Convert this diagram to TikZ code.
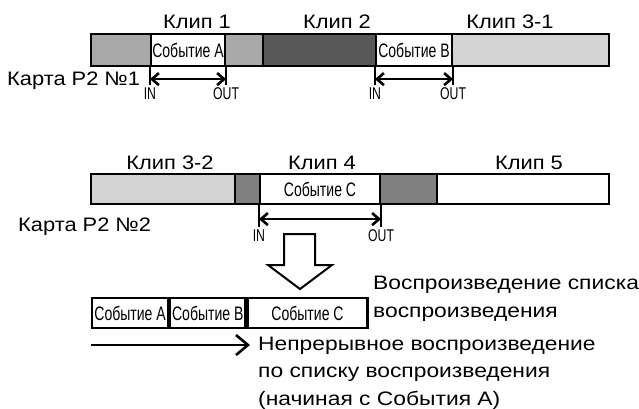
\documentclass[tikz,border=0pt]{standalone}
\usepackage{fontspec}
\setmainfont{Liberation Sans}[FakeStretch=1.12]
\newfontfamily\narrowfont{Liberation Sans}[FakeStretch=0.72]
\newfontfamily\notefont{Liberation Sans}[FakeStretch=1.17]
\usepackage{tikz}
\usetikzlibrary{arrows.meta,positioning,calc}
\definecolor{gMid}{RGB}{168,168,168}
\definecolor{gDark}{RGB}{88,88,88}
\definecolor{gLight}{RGB}{212,212,212}
\definecolor{gCut}{RGB}{128,128,128}
\newcommand{\bigtxt}{\fontsize{19.5}{27.5}\selectfont}
\newcommand{\evtxt}{\narrowfont\fontsize{19.5}{20}\selectfont}
\newcommand{\iotxt}{\narrowfont\fontsize{17}{18}\selectfont}

\begin{document}
\begin{tikzpicture}[x=1pt, y=-1pt, line join=miter,
  bar/.style={draw=black, line width=2.2pt},
  evbox/.style={draw=black, line width=2.2pt, fill=white, inner sep=0pt, font=\evtxt},
  cliplbl/.style={font=\bigtxt, inner sep=0pt},
  notelbl/.style={font=\notefont\bigtxt, inner sep=0pt, anchor=west, align=left},
  iolbl/.style={font=\iotxt, inner sep=1.5pt},
  tickline/.style={line width=2pt},
  ioarrow/.style={{Straight Barb[length=7pt,width=12pt]}-{Straight Barb[length=7pt,width=12pt]}, line width=2.6pt},
  playarrow/.style={-{Straight Barb[length=12pt,width=20pt]}, line width=2.6pt}]
  \useasboundingbox (0,0) rectangle (639,408);

  % card No.1
  \filldraw[bar, fill=gMid] (91,34) rectangle (151,66);
  \node[evbox, minimum width=74pt, minimum height=32pt] (evA) at (188,50) {Событие A};
  \filldraw[bar, fill=gMid] (225,34) rectangle (263,66);
  \filldraw[bar, fill=gDark] (263,34) rectangle (376,66);
  \node[evbox, minimum width=76pt, minimum height=32pt] (evB) at (414,50) {Событие B};
  \filldraw[bar, fill=gLight] (452,34) rectangle (609,66);
  \node[cliplbl] (clip1) at (197,22) {Клип 1};
  \node[cliplbl] (clip2) at (337,22) {Клип 2};
  \node[cliplbl] (clip31) at (510,22) {Клип 3-1};
  \node[cliplbl, anchor=west] (card1) at (7,81) {Карта P2 №1};
  % in/out marks, card No.1
  \foreach \ev in {evA,evB} {
    \draw[tickline] (\ev.south west) -- ++(0,18) node[iolbl, below] {IN};
    \draw[tickline] (\ev.south east) -- ++(0,18) node[iolbl, below] {OUT};
    \draw[ioarrow] ($(\ev.south west)+(0,12)$) -- ($(\ev.south east)+(0,12)$);
  }

  % card No.2
  \filldraw[bar, fill=gLight] (91,174) rectangle (235,204);
  \filldraw[bar, fill=gCut] (235,174) rectangle (260,204);
  \node[evbox, minimum width=120pt, minimum height=30pt] (evC) at (320,189) {Событие C};
  \filldraw[bar, fill=gCut] (380,174) rectangle (437,204);
  \filldraw[bar, fill=white] (437,174) rectangle (609,204);
  \node[cliplbl] (clip32) at (170,163) {Клип 3-2};
  \node[cliplbl] (clip4) at (322,163) {Клип 4};
  \node[cliplbl] (clip5) at (529,163) {Клип 5};
  \node[cliplbl, anchor=west] (card2) at (18,227) {Карта P2 №2};
  \draw[tickline] (evC.south west) -- ++(0,22) node[iolbl, below] {IN};
  \draw[tickline] (evC.south east) -- ++(0,22) node[iolbl, below] {OUT};
  \draw[ioarrow] ($(evC.south west)+(0,14)$) -- ($(evC.south east)+(0,14)$);

  % hollow arrow
  \draw[line width=2pt, fill=white] (284,234) -- (315,234) -- (315,265) -- (332,265)
    -- (300,289) -- (268,265) -- (284,265) -- cycle;

  % playlist
  \node[evbox, minimum width=76pt, minimum height=30pt, anchor=west] (plA) at (91,313) {Событие A};
  \node[evbox, minimum width=75pt, minimum height=30pt, anchor=west] (plB) at (plA.east) {Событие B};
  \node[evbox, minimum width=120pt, minimum height=30pt, anchor=west] (plC) at (plB.east) {Событие C};
  \node[notelbl] (plNote) at (373,299)
    {Воспроизведение списка\\воспроизведения};
  \node[notelbl] (seqNote) at (258,373)
    {Непрерывное воспроизведение\\по списку воспроизведения\\(начиная с События А)};
  \coordinate (seqStart) at (91,345);
  \coordinate (seqEnd) at (250,345);
  \draw[playarrow] (seqStart) -- (seqEnd);
\end{tikzpicture}
\end{document}
